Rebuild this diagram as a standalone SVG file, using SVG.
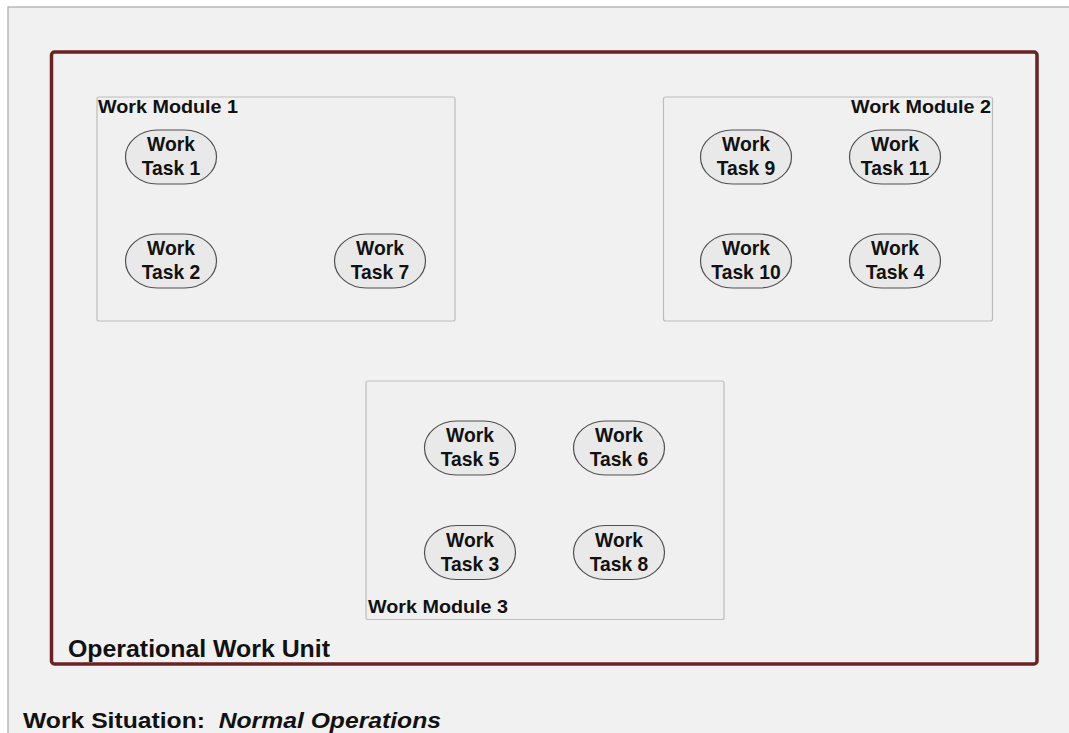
<svg xmlns="http://www.w3.org/2000/svg" width="1069" height="733" viewBox="0 0 1069 733">
<style>
.t{font-family:"Liberation Sans",Arial,sans-serif;font-weight:bold;fill:#111;}
.task rect{fill:#e9e9e9;stroke:#505050;stroke-width:1.2;}
.task text{font-size:19.3px;text-anchor:middle;}
.mod{fill:#f0f0f0;stroke:#bdbdbd;stroke-width:1.2;}
.ml{font-size:18px;}
</style>
<rect x="0" y="0" width="1069" height="733" fill="#ffffff"/>
<rect x="8" y="7" width="1080" height="740" fill="#f1f1f1" stroke="#a8a8a8" stroke-width="1.2"/>
<g id="unit">
<rect x="51.5" y="52" width="985.5" height="612" rx="3" fill="none" stroke="#6a2222" stroke-width="3.5"/>
<text class="t" x="68" y="657" font-size="23" textLength="262" lengthAdjust="spacingAndGlyphs">Operational Work Unit</text>
</g>
<g id="module1">
<rect class="mod" x="97" y="97" width="358" height="224" rx="2"/>
<text class="t ml" x="98" y="113" textLength="140" lengthAdjust="spacingAndGlyphs">Work Module 1</text>
</g>
<g id="module2">
<rect class="mod" x="663.5" y="97" width="329" height="224" rx="2"/>
<text class="t ml" x="851" y="113" textLength="140" lengthAdjust="spacingAndGlyphs">Work Module 2</text>
</g>
<g id="module3">
<rect class="mod" x="366" y="381" width="358" height="238.5" rx="2"/>
<text class="t ml" x="368" y="612.5" textLength="140" lengthAdjust="spacingAndGlyphs">Work Module 3</text>
</g>
<g id="task1" class="task"><rect x="125.5" y="130" width="91" height="54" rx="32" ry="27"/><text class="t" x="171" y="151">Work</text><text class="t" x="171" y="175">Task 1</text></g>
<g id="task2" class="task"><rect x="125.5" y="234" width="91" height="54" rx="32" ry="27"/><text class="t" x="171" y="255">Work</text><text class="t" x="171" y="279">Task 2</text></g>
<g id="task7" class="task"><rect x="334.5" y="234" width="91" height="54" rx="32" ry="27"/><text class="t" x="380" y="255">Work</text><text class="t" x="380" y="279">Task 7</text></g>
<g id="task9" class="task"><rect x="700.5" y="130" width="91" height="54" rx="32" ry="27"/><text class="t" x="746" y="151">Work</text><text class="t" x="746" y="175">Task 9</text></g>
<g id="task11" class="task"><rect x="849.5" y="130" width="91" height="54" rx="32" ry="27"/><text class="t" x="895" y="151">Work</text><text class="t" x="895" y="175">Task 11</text></g>
<g id="task10" class="task"><rect x="700.5" y="234" width="91" height="54" rx="32" ry="27"/><text class="t" x="746" y="255">Work</text><text class="t" x="746" y="279">Task 10</text></g>
<g id="task4" class="task"><rect x="849.5" y="234" width="91" height="54" rx="32" ry="27"/><text class="t" x="895" y="255">Work</text><text class="t" x="895" y="279">Task 4</text></g>
<g id="task5" class="task"><rect x="424.5" y="421" width="91" height="54" rx="32" ry="27"/><text class="t" x="470" y="442">Work</text><text class="t" x="470" y="466">Task 5</text></g>
<g id="task6" class="task"><rect x="573.5" y="421" width="91" height="54" rx="32" ry="27"/><text class="t" x="619" y="442">Work</text><text class="t" x="619" y="466">Task 6</text></g>
<g id="task3" class="task"><rect x="424.5" y="525.5" width="91" height="54" rx="32" ry="27"/><text class="t" x="470" y="546.5">Work</text><text class="t" x="470" y="570.5">Task 3</text></g>
<g id="task8" class="task"><rect x="573.5" y="525.5" width="91" height="54" rx="32" ry="27"/><text class="t" x="619" y="546.5">Work</text><text class="t" x="619" y="570.5">Task 8</text></g>
<g id="connectors"></g>
<g id="situation">
<text class="t" x="23" y="727.5" font-size="22" textLength="418" lengthAdjust="spacingAndGlyphs" style="white-space:pre">Work Situation:  <tspan font-style="italic">Normal Operations</tspan></text>
</g>
</svg>
